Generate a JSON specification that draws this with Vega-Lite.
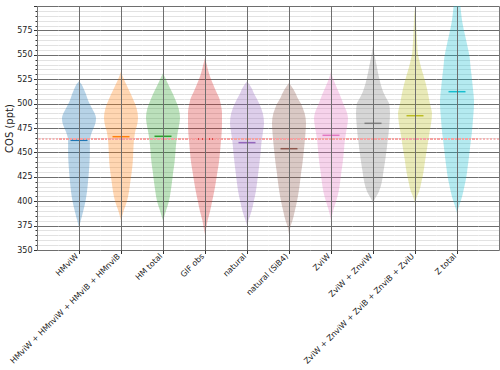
{
"$schema": "https://vega.github.io/schema/vega-lite/v6.json",
"padding": {"left": 4, "top": 2, "right": 5, "bottom": 0},
"spacing": 0,
"bounds": "flush",
"config": {"view": {"stroke": null}, "font": "DejaVu Sans"},
"datasets": {"v": [
{"c":"HMviW","v":373,"w":0},{"c":"HMviW","v":380,"w":0.1},{"c":"HMviW","v":390,"w":0.25},{"c":"HMviW","v":400,"w":0.38},{"c":"HMviW","v":410,"w":0.47},{"c":"HMviW","v":420,"w":0.53},{"c":"HMviW","v":430,"w":0.58},{"c":"HMviW","v":440,"w":0.62},{"c":"HMviW","v":450,"w":0.64},{"c":"HMviW","v":460,"w":0.64},{"c":"HMviW","v":465,"w":0.66},{"c":"HMviW","v":470,"w":0.74},{"c":"HMviW","v":475,"w":0.86},{"c":"HMviW","v":480,"w":0.97},{"c":"HMviW","v":485,"w":1.0},{"c":"HMviW","v":490,"w":0.92},{"c":"HMviW","v":495,"w":0.77},{"c":"HMviW","v":500,"w":0.62},{"c":"HMviW","v":505,"w":0.5},{"c":"HMviW","v":510,"w":0.4},{"c":"HMviW","v":515,"w":0.28},{"c":"HMviW","v":520,"w":0.14},{"c":"HMviW","v":523,"w":0},
{"c":"HMviW + HMnviW + HMviB + HMnviB","v":380,"w":0},{"c":"HMviW + HMnviW + HMviB + HMnviB","v":390,"w":0.15},{"c":"HMviW + HMnviW + HMviB + HMnviB","v":400,"w":0.35},{"c":"HMviW + HMnviW + HMviB + HMnviB","v":410,"w":0.47},{"c":"HMviW + HMnviW + HMviB + HMnviB","v":420,"w":0.55},{"c":"HMviW + HMnviW + HMviB + HMnviB","v":430,"w":0.63},{"c":"HMviW + HMnviW + HMviB + HMnviB","v":440,"w":0.69},{"c":"HMviW + HMnviW + HMviB + HMnviB","v":450,"w":0.72},{"c":"HMviW + HMnviW + HMviB + HMnviB","v":460,"w":0.75},{"c":"HMviW + HMnviW + HMviB + HMnviB","v":470,"w":0.82},{"c":"HMviW + HMnviW + HMviB + HMnviB","v":480,"w":0.97},{"c":"HMviW + HMnviW + HMviB + HMnviB","v":486,"w":1.0},{"c":"HMviW + HMnviW + HMviB + HMnviB","v":495,"w":0.92},{"c":"HMviW + HMnviW + HMviB + HMnviB","v":500,"w":0.82},{"c":"HMviW + HMnviW + HMviB + HMnviB","v":510,"w":0.57},{"c":"HMviW + HMnviW + HMviB + HMnviB","v":520,"w":0.3},{"c":"HMviW + HMnviW + HMviB + HMnviB","v":525,"w":0.17},{"c":"HMviW + HMnviW + HMviB + HMnviB","v":533,"w":0},
{"c":"HM total","v":380,"w":0},{"c":"HM total","v":390,"w":0.17},{"c":"HM total","v":400,"w":0.35},{"c":"HM total","v":410,"w":0.45},{"c":"HM total","v":420,"w":0.53},{"c":"HM total","v":430,"w":0.6},{"c":"HM total","v":440,"w":0.68},{"c":"HM total","v":450,"w":0.73},{"c":"HM total","v":460,"w":0.78},{"c":"HM total","v":470,"w":0.86},{"c":"HM total","v":480,"w":0.97},{"c":"HM total","v":486,"w":1.0},{"c":"HM total","v":495,"w":0.92},{"c":"HM total","v":500,"w":0.82},{"c":"HM total","v":510,"w":0.58},{"c":"HM total","v":520,"w":0.3},{"c":"HM total","v":525,"w":0.17},{"c":"HM total","v":531,"w":0},
{"c":"GIF obs","v":366,"w":0},{"c":"GIF obs","v":375,"w":0.1},{"c":"GIF obs","v":380,"w":0.15},{"c":"GIF obs","v":390,"w":0.3},{"c":"GIF obs","v":400,"w":0.42},{"c":"GIF obs","v":410,"w":0.54},{"c":"GIF obs","v":420,"w":0.64},{"c":"GIF obs","v":430,"w":0.73},{"c":"GIF obs","v":440,"w":0.82},{"c":"GIF obs","v":450,"w":0.88},{"c":"GIF obs","v":460,"w":0.93},{"c":"GIF obs","v":470,"w":0.98},{"c":"GIF obs","v":480,"w":1.0},{"c":"GIF obs","v":490,"w":1.0},{"c":"GIF obs","v":500,"w":0.92},{"c":"GIF obs","v":506,"w":0.83},{"c":"GIF obs","v":510,"w":0.72},{"c":"GIF obs","v":520,"w":0.47},{"c":"GIF obs","v":530,"w":0.25},{"c":"GIF obs","v":540,"w":0.1},{"c":"GIF obs","v":547,"w":0},
{"c":"natural","v":375,"w":0},{"c":"natural","v":380,"w":0.08},{"c":"natural","v":390,"w":0.27},{"c":"natural","v":400,"w":0.4},{"c":"natural","v":410,"w":0.52},{"c":"natural","v":420,"w":0.6},{"c":"natural","v":430,"w":0.67},{"c":"natural","v":440,"w":0.74},{"c":"natural","v":450,"w":0.8},{"c":"natural","v":460,"w":0.85},{"c":"natural","v":470,"w":0.93},{"c":"natural","v":480,"w":1.0},{"c":"natural","v":490,"w":0.93},{"c":"natural","v":500,"w":0.72},{"c":"natural","v":505,"w":0.58},{"c":"natural","v":510,"w":0.42},{"c":"natural","v":515,"w":0.3},{"c":"natural","v":520,"w":0.12},{"c":"natural","v":523,"w":0},
{"c":"natural (SiB4)","v":366,"w":0},{"c":"natural (SiB4)","v":375,"w":0.1},{"c":"natural (SiB4)","v":380,"w":0.2},{"c":"natural (SiB4)","v":390,"w":0.34},{"c":"natural (SiB4)","v":400,"w":0.47},{"c":"natural (SiB4)","v":410,"w":0.57},{"c":"natural (SiB4)","v":420,"w":0.65},{"c":"natural (SiB4)","v":430,"w":0.72},{"c":"natural (SiB4)","v":440,"w":0.8},{"c":"natural (SiB4)","v":450,"w":0.86},{"c":"natural (SiB4)","v":460,"w":0.92},{"c":"natural (SiB4)","v":470,"w":0.97},{"c":"natural (SiB4)","v":480,"w":1.0},{"c":"natural (SiB4)","v":490,"w":0.92},{"c":"natural (SiB4)","v":495,"w":0.82},{"c":"natural (SiB4)","v":500,"w":0.7},{"c":"natural (SiB4)","v":506,"w":0.5},{"c":"natural (SiB4)","v":510,"w":0.4},{"c":"natural (SiB4)","v":515,"w":0.25},{"c":"natural (SiB4)","v":521,"w":0},
{"c":"ZviW","v":380,"w":0},{"c":"ZviW","v":390,"w":0.12},{"c":"ZviW","v":400,"w":0.3},{"c":"ZviW","v":410,"w":0.45},{"c":"ZviW","v":420,"w":0.54},{"c":"ZviW","v":430,"w":0.61},{"c":"ZviW","v":440,"w":0.69},{"c":"ZviW","v":450,"w":0.75},{"c":"ZviW","v":460,"w":0.8},{"c":"ZviW","v":470,"w":0.88},{"c":"ZviW","v":480,"w":0.98},{"c":"ZviW","v":485,"w":1.0},{"c":"ZviW","v":490,"w":0.95},{"c":"ZviW","v":500,"w":0.72},{"c":"ZviW","v":510,"w":0.5},{"c":"ZviW","v":516,"w":0.35},{"c":"ZviW","v":520,"w":0.25},{"c":"ZviW","v":527,"w":0.1},{"c":"ZviW","v":533,"w":0},
{"c":"ZviW + ZnviW","v":398,"w":0},{"c":"ZviW + ZnviW","v":402,"w":0.1},{"c":"ZviW + ZnviW","v":410,"w":0.35},{"c":"ZviW + ZnviW","v":420,"w":0.52},{"c":"ZviW + ZnviW","v":430,"w":0.61},{"c":"ZviW + ZnviW","v":440,"w":0.7},{"c":"ZviW + ZnviW","v":450,"w":0.78},{"c":"ZviW + ZnviW","v":460,"w":0.85},{"c":"ZviW + ZnviW","v":470,"w":0.92},{"c":"ZviW + ZnviW","v":480,"w":0.97},{"c":"ZviW + ZnviW","v":490,"w":1.0},{"c":"ZviW + ZnviW","v":500,"w":0.95},{"c":"ZviW + ZnviW","v":505,"w":0.8},{"c":"ZviW + ZnviW","v":510,"w":0.65},{"c":"ZviW + ZnviW","v":516,"w":0.52},{"c":"ZviW + ZnviW","v":525,"w":0.38},{"c":"ZviW + ZnviW","v":533,"w":0.28},{"c":"ZviW + ZnviW","v":540,"w":0.2},{"c":"ZviW + ZnviW","v":547,"w":0.12},{"c":"ZviW + ZnviW","v":559,"w":0},
{"c":"ZviW + ZnviW + ZviB + ZnviB + ZviU","v":398,"w":0},{"c":"ZviW + ZnviW + ZviB + ZnviB + ZviU","v":405,"w":0.12},{"c":"ZviW + ZnviW + ZviB + ZnviB + ZviU","v":410,"w":0.24},{"c":"ZviW + ZnviW + ZviB + ZnviB + ZviU","v":420,"w":0.38},{"c":"ZviW + ZnviW + ZviB + ZnviB + ZviU","v":430,"w":0.5},{"c":"ZviW + ZnviW + ZviB + ZnviB + ZviU","v":440,"w":0.58},{"c":"ZviW + ZnviW + ZviB + ZnviB + ZviU","v":450,"w":0.67},{"c":"ZviW + ZnviW + ZviB + ZnviB + ZviU","v":460,"w":0.76},{"c":"ZviW + ZnviW + ZviB + ZnviB + ZviU","v":470,"w":0.85},{"c":"ZviW + ZnviW + ZviB + ZnviB + ZviU","v":480,"w":0.95},{"c":"ZviW + ZnviW + ZviB + ZnviB + ZviU","v":490,"w":1.0},{"c":"ZviW + ZnviW + ZviB + ZnviB + ZviU","v":495,"w":0.95},{"c":"ZviW + ZnviW + ZviB + ZnviB + ZviU","v":500,"w":0.88},{"c":"ZviW + ZnviW + ZviB + ZnviB + ZviU","v":510,"w":0.77},{"c":"ZviW + ZnviW + ZviB + ZnviB + ZviU","v":520,"w":0.64},{"c":"ZviW + ZnviW + ZviB + ZnviB + ZviU","v":530,"w":0.48},{"c":"ZviW + ZnviW + ZviB + ZnviB + ZviU","v":537,"w":0.36},{"c":"ZviW + ZnviW + ZviB + ZnviB + ZviU","v":545,"w":0.25},{"c":"ZviW + ZnviW + ZviB + ZnviB + ZviU","v":550,"w":0.18},{"c":"ZviW + ZnviW + ZviB + ZnviB + ZviU","v":560,"w":0.13},{"c":"ZviW + ZnviW + ZviB + ZnviB + ZviU","v":570,"w":0.1},{"c":"ZviW + ZnviW + ZviB + ZnviB + ZviU","v":580,"w":0.07},{"c":"ZviW + ZnviW + ZviB + ZnviB + ZviU","v":590,"w":0.05},{"c":"ZviW + ZnviW + ZviB + ZnviB + ZviU","v":598,"w":0},
{"c":"Z total","v":388,"w":0},{"c":"Z total","v":395,"w":0.12},{"c":"Z total","v":403,"w":0.27},{"c":"Z total","v":410,"w":0.37},{"c":"Z total","v":417,"w":0.46},{"c":"Z total","v":425,"w":0.55},{"c":"Z total","v":434,"w":0.62},{"c":"Z total","v":442,"w":0.68},{"c":"Z total","v":451,"w":0.74},{"c":"Z total","v":460,"w":0.8},{"c":"Z total","v":468,"w":0.86},{"c":"Z total","v":477,"w":0.91},{"c":"Z total","v":486,"w":0.95},{"c":"Z total","v":495,"w":0.99},{"c":"Z total","v":503,"w":1.0},{"c":"Z total","v":510,"w":0.97},{"c":"Z total","v":520,"w":0.91},{"c":"Z total","v":530,"w":0.85},{"c":"Z total","v":537,"w":0.8},{"c":"Z total","v":545,"w":0.76},{"c":"Z total","v":550,"w":0.72},{"c":"Z total","v":560,"w":0.6},{"c":"Z total","v":571,"w":0.46},{"c":"Z total","v":580,"w":0.35},{"c":"Z total","v":590,"w":0.26},{"c":"Z total","v":600,"w":0.2},{"c":"Z total","v":610,"w":0.13},{"c":"Z total","v":620,"w":0.05},{"c":"Z total","v":625,"w":0},
{"c":"HMviW","stat":"mean","v":462.4},{"c":"HMviW + HMnviW + HMviB + HMnviB","stat":"mean","v":466.1},{"c":"HM total","stat":"mean","v":466.5},{"c":"GIF obs","stat":"mean","v":463.7},{"c":"natural","stat":"mean","v":460.0},{"c":"natural (SiB4)","stat":"mean","v":453.8},{"c":"ZviW","stat":"mean","v":467.5},{"c":"ZviW + ZnviW","stat":"mean","v":479.8},{"c":"ZviW + ZnviW + ZviB + ZnviB + ZviU","stat":"mean","v":487.6},{"c":"Z total","stat":"mean","v":512.2}
]},
"resolve": {"scale": {"y": "independent", "x": "independent"}},
"hconcat": [
{"width": 21, "height": 244, "data": {"values": [{}]},
 "mark": {"type": "rule", "color": "#f5a3a3", "strokeDash": [2, 1.5], "strokeWidth": 1.5},
 "encoding": {"y": {"datum": 463.7, "type": "quantitative", "scale": {"domain": [350, 600], "nice": false, "zero": false},
   "axis": {"tickCount": 50, "labelExpr": "datum.value % 25 === 0 && datum.value < 600 ? datum.label : ''", "labelOverlap": false, "labelFlush": false,
     "title": "COS (ppt)", "titleFontSize": 10, "titleFontWeight": "normal", "titleColor": "#222", "titlePadding": 2, "titleFont": "DejaVu Sans",
     "labelFontSize": 8, "labelColor": "#222", "labelPadding": 1.5, "labelFont": "DejaVu Sans",
     "tickSize": {"condition": {"test": "datum.value % 25 === 0", "value": 3.5}, "value": 2}, "tickColor": "#333",
     "domain": true, "domainColor": "#777",
     "grid": true, "gridColor": {"condition": {"test": "datum.value % 25 === 0", "value": "#6e6e6e"}, "value": "#e2e2e2"}}}}},
{"width": 42, "height": 244, "data": {"name": "v"}, "transform": [{"filter": "datum.c === 'HMviW'"}],
 "encoding": {"y": {"field": "v", "type": "quantitative", "scale": {"domain": [350, 600], "nice": false, "zero": false}, "axis": {"tickCount": 50, "labels": false, "ticks": false, "domain": false, "title": null, "grid": true, "gridColor": {"condition": {"test": "datum.value % 25 === 0", "value": "#6e6e6e"}, "value": "#e2e2e2"}}}},
 "layer": [
  {"transform": [{"filter": "isValid(datum.w)"}], "mark": {"type": "area", "orient": "horizontal", "interpolate": "monotone", "opacity": 0.32, "clip": true, "color": "#1f77b4"},
   "encoding": {"x": {"field": "w", "type": "quantitative", "stack": "center", "impute": null, "scale": {"domain": [-0.118, 1.118], "nice": false, "zero": false},
       "axis": {"zindex": 1, "values": [0.5], "labels": false, "tickSize": 3.5, "tickColor": "#333", "domain": false, "grid": true, "gridColor": "#6e6e6e", "title": "HMviW", "titleX": 16, "titleY": 2, "titleAngle": -45, "titleAlign": "right", "titleBaseline": "top", "titlePadding": 0, "titleFontSize": 8, "titleFontWeight": "normal", "titleColor": "#222", "titleFont": "DejaVu Sans"}}}},
  {"transform": [{"filter": "datum.stat === 'mean'"}], "mark": {"type": "tick", "orient": "horizontal", "size": 17, "thickness": 1.5, "color": "#1f77b4", "opacity": 1}},
  {"mark": {"type": "rule", "color": "#f5a3a3", "strokeDash": [2, 1.5], "strokeWidth": 1.5}, "encoding": {"y": {"datum": 463.7, "type": "quantitative", "scale": {"domain": [350, 600], "nice": false, "zero": false}, "axis": {"tickCount": 50, "labels": false, "ticks": false, "domain": false, "title": null, "grid": true, "gridColor": {"condition": {"test": "datum.value % 25 === 0", "value": "#6e6e6e"}, "value": "#e2e2e2"}}}}}
 ]},
{"width": 42, "height": 244, "data": {"name": "v"}, "transform": [{"filter": "datum.c === 'HMviW + HMnviW + HMviB + HMnviB'"}],
 "encoding": {"y": {"field": "v", "type": "quantitative", "scale": {"domain": [350, 600], "nice": false, "zero": false}, "axis": {"tickCount": 50, "labels": false, "ticks": false, "domain": false, "title": null, "grid": true, "gridColor": {"condition": {"test": "datum.value % 25 === 0", "value": "#6e6e6e"}, "value": "#e2e2e2"}}}},
 "layer": [
  {"transform": [{"filter": "isValid(datum.w)"}], "mark": {"type": "area", "orient": "horizontal", "interpolate": "monotone", "opacity": 0.32, "clip": true, "color": "#ff7f0e"},
   "encoding": {"x": {"field": "w", "type": "quantitative", "stack": "center", "impute": null, "scale": {"domain": [-0.118, 1.118], "nice": false, "zero": false},
       "axis": {"zindex": 1, "values": [0.5], "labels": false, "tickSize": 3.5, "tickColor": "#333", "domain": false, "grid": true, "gridColor": "#6e6e6e", "title": "HMviW + HMnviW + HMviB + HMnviB", "titleX": 16, "titleY": 2, "titleAngle": -45, "titleAlign": "right", "titleBaseline": "top", "titlePadding": 0, "titleFontSize": 8, "titleFontWeight": "normal", "titleColor": "#222", "titleFont": "DejaVu Sans"}}}},
  {"transform": [{"filter": "datum.stat === 'mean'"}], "mark": {"type": "tick", "orient": "horizontal", "size": 17, "thickness": 1.5, "color": "#ff7f0e", "opacity": 1}},
  {"mark": {"type": "rule", "color": "#f5a3a3", "strokeDash": [2, 1.5], "strokeWidth": 1.5}, "encoding": {"y": {"datum": 463.7, "type": "quantitative", "scale": {"domain": [350, 600], "nice": false, "zero": false}, "axis": {"tickCount": 50, "labels": false, "ticks": false, "domain": false, "title": null, "grid": true, "gridColor": {"condition": {"test": "datum.value % 25 === 0", "value": "#6e6e6e"}, "value": "#e2e2e2"}}}}}
 ]},
{"width": 42, "height": 244, "data": {"name": "v"}, "transform": [{"filter": "datum.c === 'HM total'"}],
 "encoding": {"y": {"field": "v", "type": "quantitative", "scale": {"domain": [350, 600], "nice": false, "zero": false}, "axis": {"tickCount": 50, "labels": false, "ticks": false, "domain": false, "title": null, "grid": true, "gridColor": {"condition": {"test": "datum.value % 25 === 0", "value": "#6e6e6e"}, "value": "#e2e2e2"}}}},
 "layer": [
  {"transform": [{"filter": "isValid(datum.w)"}], "mark": {"type": "area", "orient": "horizontal", "interpolate": "monotone", "opacity": 0.32, "clip": true, "color": "#2ca02c"},
   "encoding": {"x": {"field": "w", "type": "quantitative", "stack": "center", "impute": null, "scale": {"domain": [-0.118, 1.118], "nice": false, "zero": false},
       "axis": {"zindex": 1, "values": [0.5], "labels": false, "tickSize": 3.5, "tickColor": "#333", "domain": false, "grid": true, "gridColor": "#6e6e6e", "title": "HM total", "titleX": 16, "titleY": 2, "titleAngle": -45, "titleAlign": "right", "titleBaseline": "top", "titlePadding": 0, "titleFontSize": 8, "titleFontWeight": "normal", "titleColor": "#222", "titleFont": "DejaVu Sans"}}}},
  {"transform": [{"filter": "datum.stat === 'mean'"}], "mark": {"type": "tick", "orient": "horizontal", "size": 17, "thickness": 1.5, "color": "#2ca02c", "opacity": 1}},
  {"mark": {"type": "rule", "color": "#f5a3a3", "strokeDash": [2, 1.5], "strokeWidth": 1.5}, "encoding": {"y": {"datum": 463.7, "type": "quantitative", "scale": {"domain": [350, 600], "nice": false, "zero": false}, "axis": {"tickCount": 50, "labels": false, "ticks": false, "domain": false, "title": null, "grid": true, "gridColor": {"condition": {"test": "datum.value % 25 === 0", "value": "#6e6e6e"}, "value": "#e2e2e2"}}}}}
 ]},
{"width": 42, "height": 244, "data": {"name": "v"}, "transform": [{"filter": "datum.c === 'GIF obs'"}],
 "encoding": {"y": {"field": "v", "type": "quantitative", "scale": {"domain": [350, 600], "nice": false, "zero": false}, "axis": {"tickCount": 50, "labels": false, "ticks": false, "domain": false, "title": null, "grid": true, "gridColor": {"condition": {"test": "datum.value % 25 === 0", "value": "#6e6e6e"}, "value": "#e2e2e2"}}}},
 "layer": [
  {"transform": [{"filter": "isValid(datum.w)"}], "mark": {"type": "area", "orient": "horizontal", "interpolate": "monotone", "opacity": 0.32, "clip": true, "color": "#d62728"},
   "encoding": {"x": {"field": "w", "type": "quantitative", "stack": "center", "impute": null, "scale": {"domain": [-0.118, 1.118], "nice": false, "zero": false},
       "axis": {"zindex": 1, "values": [0.5], "labels": false, "tickSize": 3.5, "tickColor": "#333", "domain": false, "grid": true, "gridColor": "#6e6e6e", "title": "GIF obs", "titleX": 16, "titleY": 2, "titleAngle": -45, "titleAlign": "right", "titleBaseline": "top", "titlePadding": 0, "titleFontSize": 8, "titleFontWeight": "normal", "titleColor": "#222", "titleFont": "DejaVu Sans"}}}},
  {"transform": [{"filter": "datum.stat === 'mean'"}], "mark": {"type": "tick", "orient": "horizontal", "size": 17, "thickness": 1.5, "color": "#d62728", "opacity": 1}},
  {"mark": {"type": "rule", "color": "#f5a3a3", "strokeDash": [2, 1.5], "strokeWidth": 1.5}, "encoding": {"y": {"datum": 463.7, "type": "quantitative", "scale": {"domain": [350, 600], "nice": false, "zero": false}, "axis": {"tickCount": 50, "labels": false, "ticks": false, "domain": false, "title": null, "grid": true, "gridColor": {"condition": {"test": "datum.value % 25 === 0", "value": "#6e6e6e"}, "value": "#e2e2e2"}}}}}
 ]},
{"width": 42, "height": 244, "data": {"name": "v"}, "transform": [{"filter": "datum.c === 'natural'"}],
 "encoding": {"y": {"field": "v", "type": "quantitative", "scale": {"domain": [350, 600], "nice": false, "zero": false}, "axis": {"tickCount": 50, "labels": false, "ticks": false, "domain": false, "title": null, "grid": true, "gridColor": {"condition": {"test": "datum.value % 25 === 0", "value": "#6e6e6e"}, "value": "#e2e2e2"}}}},
 "layer": [
  {"transform": [{"filter": "isValid(datum.w)"}], "mark": {"type": "area", "orient": "horizontal", "interpolate": "monotone", "opacity": 0.32, "clip": true, "color": "#9467bd"},
   "encoding": {"x": {"field": "w", "type": "quantitative", "stack": "center", "impute": null, "scale": {"domain": [-0.118, 1.118], "nice": false, "zero": false},
       "axis": {"zindex": 1, "values": [0.5], "labels": false, "tickSize": 3.5, "tickColor": "#333", "domain": false, "grid": true, "gridColor": "#6e6e6e", "title": "natural", "titleX": 16, "titleY": 2, "titleAngle": -45, "titleAlign": "right", "titleBaseline": "top", "titlePadding": 0, "titleFontSize": 8, "titleFontWeight": "normal", "titleColor": "#222", "titleFont": "DejaVu Sans"}}}},
  {"transform": [{"filter": "datum.stat === 'mean'"}], "mark": {"type": "tick", "orient": "horizontal", "size": 17, "thickness": 1.5, "color": "#9467bd", "opacity": 1}},
  {"mark": {"type": "rule", "color": "#f5a3a3", "strokeDash": [2, 1.5], "strokeWidth": 1.5}, "encoding": {"y": {"datum": 463.7, "type": "quantitative", "scale": {"domain": [350, 600], "nice": false, "zero": false}, "axis": {"tickCount": 50, "labels": false, "ticks": false, "domain": false, "title": null, "grid": true, "gridColor": {"condition": {"test": "datum.value % 25 === 0", "value": "#6e6e6e"}, "value": "#e2e2e2"}}}}}
 ]},
{"width": 42, "height": 244, "data": {"name": "v"}, "transform": [{"filter": "datum.c === 'natural (SiB4)'"}],
 "encoding": {"y": {"field": "v", "type": "quantitative", "scale": {"domain": [350, 600], "nice": false, "zero": false}, "axis": {"tickCount": 50, "labels": false, "ticks": false, "domain": false, "title": null, "grid": true, "gridColor": {"condition": {"test": "datum.value % 25 === 0", "value": "#6e6e6e"}, "value": "#e2e2e2"}}}},
 "layer": [
  {"transform": [{"filter": "isValid(datum.w)"}], "mark": {"type": "area", "orient": "horizontal", "interpolate": "monotone", "opacity": 0.32, "clip": true, "color": "#8c564b"},
   "encoding": {"x": {"field": "w", "type": "quantitative", "stack": "center", "impute": null, "scale": {"domain": [-0.118, 1.118], "nice": false, "zero": false},
       "axis": {"zindex": 1, "values": [0.5], "labels": false, "tickSize": 3.5, "tickColor": "#333", "domain": false, "grid": true, "gridColor": "#6e6e6e", "title": "natural (SiB4)", "titleX": 16, "titleY": 2, "titleAngle": -45, "titleAlign": "right", "titleBaseline": "top", "titlePadding": 0, "titleFontSize": 8, "titleFontWeight": "normal", "titleColor": "#222", "titleFont": "DejaVu Sans"}}}},
  {"transform": [{"filter": "datum.stat === 'mean'"}], "mark": {"type": "tick", "orient": "horizontal", "size": 17, "thickness": 1.5, "color": "#8c564b", "opacity": 1}},
  {"mark": {"type": "rule", "color": "#f5a3a3", "strokeDash": [2, 1.5], "strokeWidth": 1.5}, "encoding": {"y": {"datum": 463.7, "type": "quantitative", "scale": {"domain": [350, 600], "nice": false, "zero": false}, "axis": {"tickCount": 50, "labels": false, "ticks": false, "domain": false, "title": null, "grid": true, "gridColor": {"condition": {"test": "datum.value % 25 === 0", "value": "#6e6e6e"}, "value": "#e2e2e2"}}}}}
 ]},
{"width": 42, "height": 244, "data": {"name": "v"}, "transform": [{"filter": "datum.c === 'ZviW'"}],
 "encoding": {"y": {"field": "v", "type": "quantitative", "scale": {"domain": [350, 600], "nice": false, "zero": false}, "axis": {"tickCount": 50, "labels": false, "ticks": false, "domain": false, "title": null, "grid": true, "gridColor": {"condition": {"test": "datum.value % 25 === 0", "value": "#6e6e6e"}, "value": "#e2e2e2"}}}},
 "layer": [
  {"transform": [{"filter": "isValid(datum.w)"}], "mark": {"type": "area", "orient": "horizontal", "interpolate": "monotone", "opacity": 0.32, "clip": true, "color": "#e377c2"},
   "encoding": {"x": {"field": "w", "type": "quantitative", "stack": "center", "impute": null, "scale": {"domain": [-0.118, 1.118], "nice": false, "zero": false},
       "axis": {"zindex": 1, "values": [0.5], "labels": false, "tickSize": 3.5, "tickColor": "#333", "domain": false, "grid": true, "gridColor": "#6e6e6e", "title": "ZviW", "titleX": 16, "titleY": 2, "titleAngle": -45, "titleAlign": "right", "titleBaseline": "top", "titlePadding": 0, "titleFontSize": 8, "titleFontWeight": "normal", "titleColor": "#222", "titleFont": "DejaVu Sans"}}}},
  {"transform": [{"filter": "datum.stat === 'mean'"}], "mark": {"type": "tick", "orient": "horizontal", "size": 17, "thickness": 1.5, "color": "#e377c2", "opacity": 1}},
  {"mark": {"type": "rule", "color": "#f5a3a3", "strokeDash": [2, 1.5], "strokeWidth": 1.5}, "encoding": {"y": {"datum": 463.7, "type": "quantitative", "scale": {"domain": [350, 600], "nice": false, "zero": false}, "axis": {"tickCount": 50, "labels": false, "ticks": false, "domain": false, "title": null, "grid": true, "gridColor": {"condition": {"test": "datum.value % 25 === 0", "value": "#6e6e6e"}, "value": "#e2e2e2"}}}}}
 ]},
{"width": 42, "height": 244, "data": {"name": "v"}, "transform": [{"filter": "datum.c === 'ZviW + ZnviW'"}],
 "encoding": {"y": {"field": "v", "type": "quantitative", "scale": {"domain": [350, 600], "nice": false, "zero": false}, "axis": {"tickCount": 50, "labels": false, "ticks": false, "domain": false, "title": null, "grid": true, "gridColor": {"condition": {"test": "datum.value % 25 === 0", "value": "#6e6e6e"}, "value": "#e2e2e2"}}}},
 "layer": [
  {"transform": [{"filter": "isValid(datum.w)"}], "mark": {"type": "area", "orient": "horizontal", "interpolate": "monotone", "opacity": 0.32, "clip": true, "color": "#7f7f7f"},
   "encoding": {"x": {"field": "w", "type": "quantitative", "stack": "center", "impute": null, "scale": {"domain": [-0.118, 1.118], "nice": false, "zero": false},
       "axis": {"zindex": 1, "values": [0.5], "labels": false, "tickSize": 3.5, "tickColor": "#333", "domain": false, "grid": true, "gridColor": "#6e6e6e", "title": "ZviW + ZnviW", "titleX": 16, "titleY": 2, "titleAngle": -45, "titleAlign": "right", "titleBaseline": "top", "titlePadding": 0, "titleFontSize": 8, "titleFontWeight": "normal", "titleColor": "#222", "titleFont": "DejaVu Sans"}}}},
  {"transform": [{"filter": "datum.stat === 'mean'"}], "mark": {"type": "tick", "orient": "horizontal", "size": 17, "thickness": 1.5, "color": "#7f7f7f", "opacity": 1}},
  {"mark": {"type": "rule", "color": "#f5a3a3", "strokeDash": [2, 1.5], "strokeWidth": 1.5}, "encoding": {"y": {"datum": 463.7, "type": "quantitative", "scale": {"domain": [350, 600], "nice": false, "zero": false}, "axis": {"tickCount": 50, "labels": false, "ticks": false, "domain": false, "title": null, "grid": true, "gridColor": {"condition": {"test": "datum.value % 25 === 0", "value": "#6e6e6e"}, "value": "#e2e2e2"}}}}}
 ]},
{"width": 42, "height": 244, "data": {"name": "v"}, "transform": [{"filter": "datum.c === 'ZviW + ZnviW + ZviB + ZnviB + ZviU'"}],
 "encoding": {"y": {"field": "v", "type": "quantitative", "scale": {"domain": [350, 600], "nice": false, "zero": false}, "axis": {"tickCount": 50, "labels": false, "ticks": false, "domain": false, "title": null, "grid": true, "gridColor": {"condition": {"test": "datum.value % 25 === 0", "value": "#6e6e6e"}, "value": "#e2e2e2"}}}},
 "layer": [
  {"transform": [{"filter": "isValid(datum.w)"}], "mark": {"type": "area", "orient": "horizontal", "interpolate": "monotone", "opacity": 0.32, "clip": true, "color": "#bcbd22"},
   "encoding": {"x": {"field": "w", "type": "quantitative", "stack": "center", "impute": null, "scale": {"domain": [-0.118, 1.118], "nice": false, "zero": false},
       "axis": {"zindex": 1, "values": [0.5], "labels": false, "tickSize": 3.5, "tickColor": "#333", "domain": false, "grid": true, "gridColor": "#6e6e6e", "title": "ZviW + ZnviW + ZviB + ZnviB + ZviU", "titleX": 16, "titleY": 2, "titleAngle": -45, "titleAlign": "right", "titleBaseline": "top", "titlePadding": 0, "titleFontSize": 8, "titleFontWeight": "normal", "titleColor": "#222", "titleFont": "DejaVu Sans"}}}},
  {"transform": [{"filter": "datum.stat === 'mean'"}], "mark": {"type": "tick", "orient": "horizontal", "size": 17, "thickness": 1.5, "color": "#bcbd22", "opacity": 1}},
  {"mark": {"type": "rule", "color": "#f5a3a3", "strokeDash": [2, 1.5], "strokeWidth": 1.5}, "encoding": {"y": {"datum": 463.7, "type": "quantitative", "scale": {"domain": [350, 600], "nice": false, "zero": false}, "axis": {"tickCount": 50, "labels": false, "ticks": false, "domain": false, "title": null, "grid": true, "gridColor": {"condition": {"test": "datum.value % 25 === 0", "value": "#6e6e6e"}, "value": "#e2e2e2"}}}}}
 ]},
{"width": 42, "height": 244, "data": {"name": "v"}, "transform": [{"filter": "datum.c === 'Z total'"}],
 "encoding": {"y": {"field": "v", "type": "quantitative", "scale": {"domain": [350, 600], "nice": false, "zero": false}, "axis": {"tickCount": 50, "labels": false, "ticks": false, "domain": false, "title": null, "grid": true, "gridColor": {"condition": {"test": "datum.value % 25 === 0", "value": "#6e6e6e"}, "value": "#e2e2e2"}}}},
 "layer": [
  {"transform": [{"filter": "isValid(datum.w)"}], "mark": {"type": "area", "orient": "horizontal", "interpolate": "monotone", "opacity": 0.32, "clip": true, "color": "#17becf"},
   "encoding": {"x": {"field": "w", "type": "quantitative", "stack": "center", "impute": null, "scale": {"domain": [-0.118, 1.118], "nice": false, "zero": false},
       "axis": {"zindex": 1, "values": [0.5], "labels": false, "tickSize": 3.5, "tickColor": "#333", "domain": false, "grid": true, "gridColor": "#6e6e6e", "title": "Z total", "titleX": 16, "titleY": 2, "titleAngle": -45, "titleAlign": "right", "titleBaseline": "top", "titlePadding": 0, "titleFontSize": 8, "titleFontWeight": "normal", "titleColor": "#222", "titleFont": "DejaVu Sans"}}}},
  {"transform": [{"filter": "datum.stat === 'mean'"}], "mark": {"type": "tick", "orient": "horizontal", "size": 17, "thickness": 1.5, "color": "#17becf", "opacity": 1}},
  {"mark": {"type": "rule", "color": "#f5a3a3", "strokeDash": [2, 1.5], "strokeWidth": 1.5}, "encoding": {"y": {"datum": 463.7, "type": "quantitative", "scale": {"domain": [350, 600], "nice": false, "zero": false}, "axis": {"tickCount": 50, "labels": false, "ticks": false, "domain": false, "title": null, "grid": true, "gridColor": {"condition": {"test": "datum.value % 25 === 0", "value": "#6e6e6e"}, "value": "#e2e2e2"}}}}}
 ]},
{"width": 21, "height": 244, "data": {"values": [{}]},
 "mark": {"type": "rule", "color": "#f5a3a3", "strokeDash": [2, 1.5], "strokeWidth": 1.5},
 "encoding": {"y": {"datum": 463.7, "type": "quantitative", "scale": {"domain": [350, 600], "nice": false, "zero": false},
   "axis": {"orient": "right", "tickCount": 50, "labels": false, "ticks": false, "title": null, "domain": true, "domainColor": "#777",
     "grid": true, "gridColor": {"condition": {"test": "datum.value % 25 === 0", "value": "#6e6e6e"}, "value": "#e2e2e2"}}}}}
]
}
